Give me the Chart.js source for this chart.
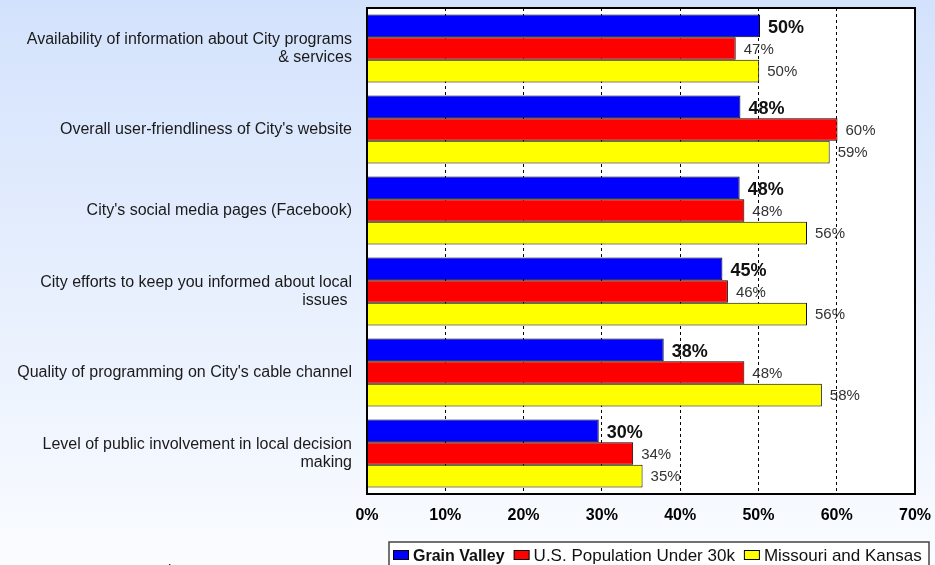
<!DOCTYPE html>
<html>
<head>
<meta charset="utf-8">
<script src="https://cdn.jsdelivr.net/npm/chart.js@4"></script>
<style>
  html, body { margin: 0; padding: 0; background: #fff; }
  canvas { display: block; }
</style>
</head>
<body>
<canvas id="myChart" width="935" height="565"></canvas>
<script>
const categories = [
  ['Availability of information about City programs', '& services'],
  "Overall user-friendliness of City's website",
  "City's social media pages (Facebook)",
  ['City efforts to keep you informed about local', 'issues '],
  "Quality of programming on City's cable channel",
  ['Level of public involvement in local decision', 'making']
];
const seriesNames = ['Grain Valley', 'U.S. Population Under 30k', 'Missouri and Kansas'];
const grainValley = [50.2, 47.7, 47.6, 45.4, 37.9, 29.6];
const usUnder30k = [47.1, 60.1, 48.2, 46.1, 48.2, 34.0];
const missouriKansas = [50.1, 59.1, 56.2, 56.2, 58.1, 35.2];
const xTicks = [0, 10, 20, 30, 40, 50, 60, 70];
const sourceNote = ['Source:', '2019 ETC Institute'];

const FONT = "'Liberation Sans', Arial, sans-serif";

window.onload = _ => {
  const ctx = document.getElementById('myChart').getContext('2d');

  const background = {
    id: 'background',
    beforeDraw: chart => {
      const c = chart.ctx, a = chart.chartArea;
      const g = c.createLinearGradient(0, 0, 0, chart.height);
      g.addColorStop(0, '#d3e2fc');
      g.addColorStop(1, '#fafcff');
      c.save();
      c.fillStyle = g;
      c.fillRect(0, 0, chart.width, chart.height);
      c.fillStyle = '#fff';
      c.fillRect(a.left, a.top, a.right - a.left, a.bottom - a.top);
      c.restore();
    }
  };

  const valueLabels = {
    id: 'valueLabels',
    afterDatasetsDraw: chart => {
      const c = chart.ctx;
      c.save();
      c.textBaseline = 'middle';
      c.textAlign = 'left';
      chart.data.datasets.forEach((ds, i) => {
        c.font = i === 0 ? `bold 18px ${FONT}` : `15px ${FONT}`;
        c.fillStyle = i === 0 ? '#111' : '#333';
        chart.getDatasetMeta(i).data.forEach((bar, j) => {
          c.fillText(Math.round(ds.data[j]) + '%', bar.x + 8, bar.y + (i === 0 ? 2 : 1));
        });
      });
      // plot frame
      const a = chart.chartArea;
      c.strokeStyle = '#000';
      c.lineWidth = 2;
      c.strokeRect(a.left, a.top, a.right - a.left, a.bottom - a.top);
      c.restore();
    }
  };

  const boxLegend = {
    id: 'boxLegend',
    afterDraw: chart => {
      const c = chart.ctx;
      c.save();
      // legend box
      c.fillStyle = '#fff';
      c.fillRect(389, 542, 540, 30);
      c.strokeStyle = '#444';
      c.lineWidth = 1.5;
      c.strokeRect(389, 542, 540, 30);
      let x = 393;
      c.textBaseline = 'alphabetic';
      chart.data.datasets.forEach((ds, i) => {
        c.fillStyle = ds.backgroundColor;
        c.fillRect(x + 0.5, 550.5, 15, 9);
        c.strokeStyle = '#000';
        c.lineWidth = 1;
        c.strokeRect(x + 0.5, 550.5, 15, 9);
        x += 20;
        c.font = i === 0 ? `bold 16px ${FONT}` : `17px ${FONT}`;
        c.fillStyle = '#111';
        c.fillText(ds.label, x, 561);
        x += c.measureText(ds.label).width + 9;
      });
      // source note, mostly cut off by the bottom edge
      c.font = `15px ${FONT}`;
      c.fillStyle = '#222';
      c.fillText(sourceNote[0], 1, 575);
      c.fillText(sourceNote[1], 72, 575);
      c.restore();
    }
  };

  const barStyle = {
    borderColor: '#000',
    borderWidth: 1,
    categoryPercentage: 0.84,
    barPercentage: 1
  };

  new Chart(ctx, {
    type: 'bar',
    data: {
      labels: categories,
      datasets: [
        { label: seriesNames[0], data: grainValley, backgroundColor: '#0000ff', ...barStyle },
        { label: seriesNames[1], data: usUnder30k, backgroundColor: '#ff0000', ...barStyle },
        { label: seriesNames[2], data: missouriKansas, backgroundColor: '#ffff00', ...barStyle }
      ]
    },
    options: {
      indexAxis: 'y',
      responsive: false,
      animation: false,
      layout: { padding: { top: 8, right: 20, bottom: 0, left: 0 } },
      plugins: {
        legend: { display: false },
        tooltip: { enabled: false }
      },
      scales: {
        x: {
          min: xTicks[0],
          max: xTicks[xTicks.length - 1],
          afterBuildTicks: s => { s.ticks = xTicks.map(v => ({ value: v })); },
          afterFit: s => { s.height = 71; s.paddingLeft = 0; s.paddingRight = 0; },
          ticks: {
            callback: v => v + '%',
            color: '#000',
            padding: 12,
            maxRotation: 0,
            font: { family: FONT, size: 16, weight: 'bold' }
          },
          grid: {
            drawTicks: false,
            lineWidth: 1,
            color: c => (c.tick && (c.tick.value === xTicks[0] || c.tick.value === xTicks[xTicks.length - 1])) ? 'rgba(0,0,0,0)' : '#000'
          },
          border: { display: false, dash: [3, 3] }
        },
        y: {
          afterFit: s => { s.width = 367; s.paddingTop = 0; s.paddingBottom = 0; },
          ticks: {
            color: '#1a1a1a',
            padding: 15,
            autoSkip: false,
            font: { family: FONT, size: 16, lineHeight: 1.15 }
          },
          grid: { display: false, drawTicks: false },
          border: { display: false }
        }
      }
    },
    plugins: [background, valueLabels, boxLegend]
  });
};
</script>
</body>
</html>
